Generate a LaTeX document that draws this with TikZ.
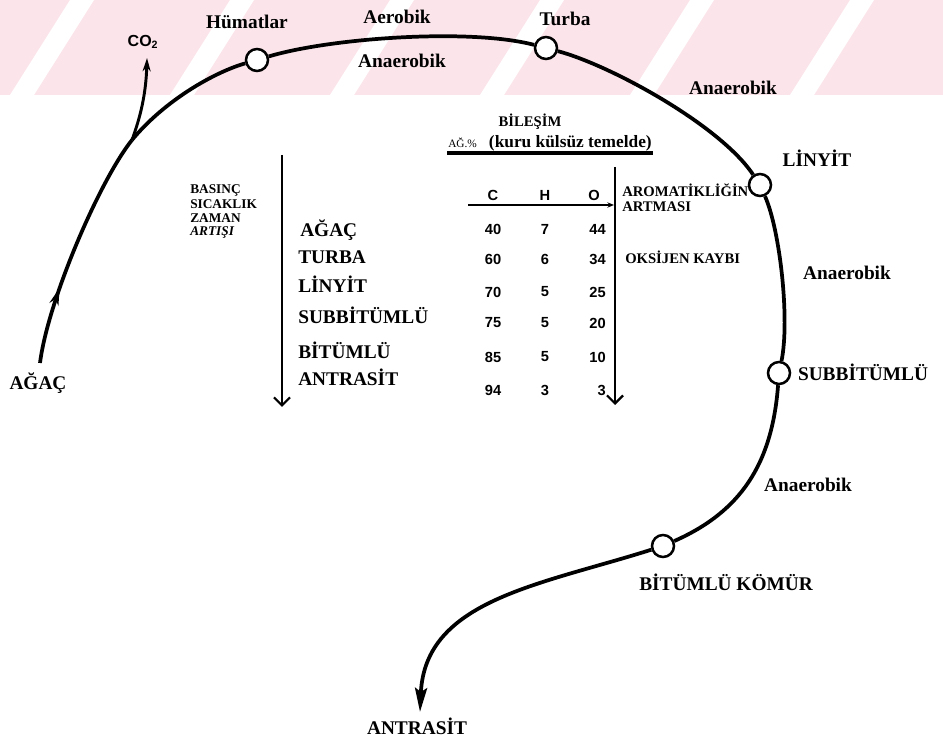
\documentclass[tikz,border=0pt]{standalone}
\usepackage{fontspec}
\setmainfont{Liberation Serif}
\newfontfamily\numfont{Liberation Sans}
\usetikzlibrary{arrows.meta,decorations.markings}
\definecolor{wm}{RGB}{251,229,234}
\begin{document}
\begin{tikzpicture}[x=0.75pt,y=-0.75pt,
  curve/.style={line width=2.8pt},
  station/.style={circle,draw,line width=1.9pt,fill=white,minimum size=16.5pt,inner sep=0pt},
  big/.style={font=\fontsize{14.5}{16}\selectfont\bfseries,inner sep=0pt},
  lab/.style={font=\fontsize{14.5}{16}\selectfont\bfseries,inner sep=0pt},
  small/.style={font=\fontsize{10}{11}\selectfont\bfseries,inner sep=0pt,anchor=west},
  mid/.style={font=\fontsize{11}{12}\selectfont\bfseries,inner sep=0pt,anchor=west},
  tab/.style={font=\numfont\fontsize{11}{12}\selectfont\bfseries,inner sep=0pt},
  vline/.style={line width=1.7pt,-{Straight Barb[length=6pt,width=12pt,line width=1.7pt]}}
]
\useasboundingbox (0,0) rectangle (943,737);
% watermark band
\fill[wm] (0,0) rectangle (943,95);
\foreach \b in {10,170,330,480,630,790}{
  \fill[white] (\b,95) -- (\b+24,95) -- (\b+84,0) -- (\b+60,0) -- cycle;}
% stations
\node[station] (hc) at (257,60) {};
\node[station] (tc) at (546,48) {};
\node[station] (lc) at (760,185) {};
\node[station] (sc) at (779,373) {};
\node[station] (bc) at (663,546) {};
\coordinate (a0) at (40,363);
\coordinate (j) at (132,140);
\coordinate (co2tip) at (147,58);
\coordinate (antend) at (420,712);
% curve
\draw[curve,postaction={decorate},decoration={markings,
  mark=at position 0.32 with {\arrow{Stealth[length=13pt,width=7pt]}}}]
  (a0) .. controls (48,300) and (100,180) .. (j);
\draw[curve] (j) .. controls (165,100) and (215,72) .. (hc);
\draw[line width=2.2pt,-{Stealth[length=10pt,width=6pt]}] (j) .. controls (140,118) and (146,95) .. (co2tip);
\draw[curve] (hc) .. controls (330,38) and (470,28) .. (tc);
\draw[curve] (tc) .. controls (610,65) and (720,125) .. (lc);
\draw[curve] (lc) .. controls (780,230) and (790,320) .. (sc);
\draw[curve] (sc) .. controls (772,465) and (740,512) .. (bc);
\draw[curve,-{Stealth[length=18pt,width=9pt,inset=3pt]}] (bc) .. controls (540,585) and (425,600) .. (antend);
% curve labels
\node[font=\numfont\fontsize{12}{13}\selectfont\bfseries,inner sep=0pt] (co2) at (143,42) {CO\textsubscript{2}};
\node[lab] (lhum) at (247,22) {Hümatlar};
\node[lab] (laer) at (397,17) {Aerobik};
\node[lab] (lana1) at (402,61) {Anaerobik};
\node[lab] (ltur) at (565,19) {Turba};
\node[lab] (lana2) at (733,88) {Anaerobik};
\node[big] (llin) at (817,158) {LİNYİT};
\node[lab] (lana3) at (847,273) {Anaerobik};
\node[big] (lsub) at (863,372) {SUBBİTÜMLÜ};
\node[lab] (lana4) at (808,485) {Anaerobik};
\node[big] (lbit) at (726,582) {BİTÜMLÜ KÖMÜR};
\node[big] (lant) at (417,726) {ANTRASİT};
\node[big] (lag) at (38,383) {AĞAÇ};
% left column
\coordinate (v1s) at (282,155);
\coordinate (v1e) at (282,407);
\draw[vline] (v1s) -- (v1e);
\node[small] (bas) at (190,190) {BASINÇ};
\node[small] (sic) at (190,204) {SICAKLIK};
\node[small] (zam) at (190,218) {ZAMAN};
\node[small,font=\fontsize{10}{11}\selectfont\bfseries\itshape] (art) at (190,232) {ARTIŞI};
\node[big,anchor=west] (r1) at (300,230) {AĞAÇ};
\node[big,anchor=west] (r2) at (298,257) {TURBA};
\node[big,anchor=west] (r3) at (298,284) {LİNYİT};
\node[big,anchor=west] (r4) at (298,315) {SUBBİTÜMLÜ};
\node[big,anchor=west] (r5) at (298,350) {BİTÜMLÜ};
\node[big,anchor=west] (r6) at (298,377) {ANTRASİT};
% table
\node[font=\fontsize{11}{12}\selectfont\bfseries,inner sep=0pt] (bil) at (530,122) {BİLEŞİM};
\node[font=\fontsize{8.5}{10}\selectfont,inner sep=0pt,anchor=west] (ag) at (448,143) {AĞ.\%};
\node[font=\fontsize{13}{14}\selectfont\bfseries,inner sep=0pt,anchor=east] (kuru) at (652,143) {(kuru külsüz temelde)};
\coordinate (u1) at (447,153);
\coordinate (u2) at (653,153);
\draw[line width=2.3pt] (u1) -- (u2);
\coordinate (v2s) at (615,167);
\coordinate (v2e) at (615,405);
\draw[vline] (v2s) -- (v2e);
\coordinate (h1) at (468,205);
\coordinate (h2) at (614,205);
\draw[line width=1.9pt,-{Stealth[length=5pt,width=4pt]}] (h1) -- (h2);
\node[tab] (cc) at (493,195) {C};
\node[tab] (ch) at (545,195) {H};
\node[tab] (co) at (594,195) {O};
\foreach \y/\c/\h/\o [count=\i] in {229/40/7/44,259/60/6/34,292/70/5/25,323/75/5/20,357/85/5/10,390/94/3/3}{
  \node[tab] (n\i c) at (493,\y) {\c};
  \node[tab] (n\i h) at (545,\y) {\h};
  \node[tab,anchor=east] (n\i o) at (606,\y) {\o};
}
\node[mid] (aro) at (622,190) {AROMATİKLİĞİN};
\node[mid] (artm) at (622,207) {ARTMASI};
\node[mid] (oks) at (625,257) {OKSİJEN KAYBI};
\end{tikzpicture}
\end{document}
